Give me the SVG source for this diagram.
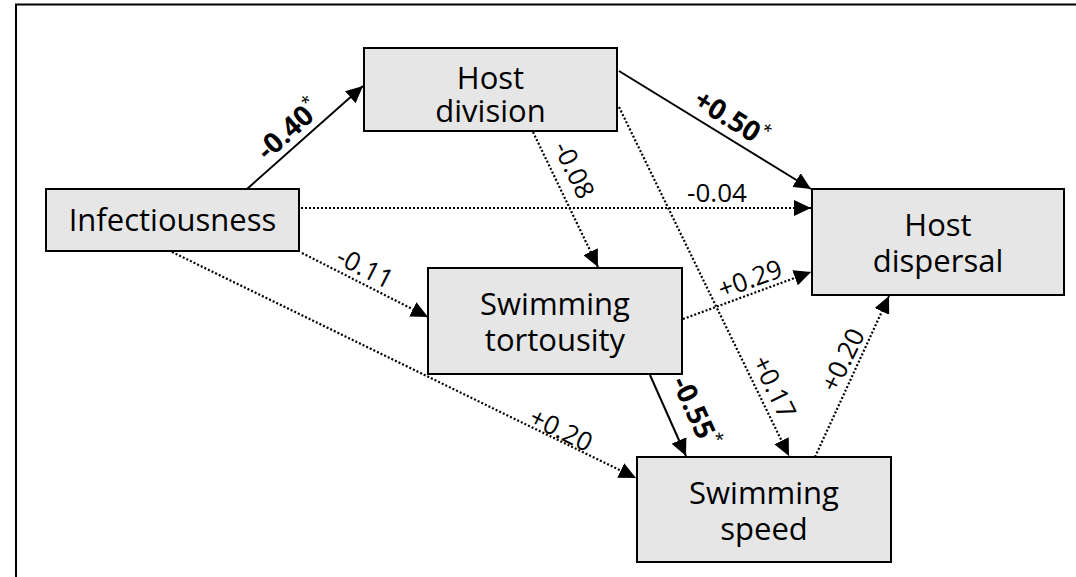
<svg xmlns="http://www.w3.org/2000/svg" width="1076" height="577" viewBox="0 0 1076 577">
<style>
.box{fill:#e6e6e6;stroke:#000;stroke-width:2}
.nt{font-family:"Open Sans","Liberation Sans",sans-serif;font-size:31px;fill:#000;text-anchor:middle}
.solid{stroke:#000;stroke-width:2;fill:none}
.dot{stroke:#000;stroke-width:2.2;fill:none;stroke-dasharray:2 2}
.lb{font-family:"Open Sans","Liberation Sans",sans-serif;font-size:26px;fill:#000;text-anchor:middle}
.b{font-weight:bold;font-size:28px}
.ast{font-size:17px;font-weight:normal}
</style>
<defs>
<marker id="ah" markerUnits="userSpaceOnUse" markerWidth="18" markerHeight="16" refX="17" refY="8" orient="auto" viewBox="0 0 18 16">
<path d="M0,0 L17,8 L0,16 z" fill="#000"/>
</marker>
</defs>
<rect width="1076" height="577" fill="#fff"/>
<path d="M16,577 V4.5 H1076" fill="none" stroke="#000" stroke-width="2"/>
<g id="connectors">
<line class="solid" x1="247" y1="189" x2="363" y2="86" marker-end="url(#ah)"/>
<line class="solid" x1="619" y1="71" x2="811" y2="189" marker-end="url(#ah)"/>
<line class="dot" x1="301" y1="208" x2="811" y2="208" marker-end="url(#ah)"/>
<line class="dot" x1="533" y1="132" x2="598" y2="267" marker-end="url(#ah)"/>
<line class="dot" x1="619" y1="107" x2="789" y2="456" marker-end="url(#ah)"/>
<line class="dot" x1="302" y1="253" x2="428" y2="317" marker-end="url(#ah)"/>
<line class="dot" x1="172" y1="252" x2="636" y2="478" marker-end="url(#ah)"/>
<line class="dot" x1="683" y1="319" x2="811" y2="272" marker-end="url(#ah)"/>
<line class="solid" x1="650" y1="375" x2="686" y2="456" marker-end="url(#ah)"/>
<line class="dot" x1="815" y1="457" x2="889" y2="296" marker-end="url(#ah)"/>
<text class="lb b" transform="translate(289,130) rotate(-42)" y="9">-0.40<tspan class="ast" dy="-12">*</tspan></text>
<text class="lb b" transform="translate(731,119) rotate(32)" y="9">+0.50<tspan class="ast" dy="-12">*</tspan></text>
<text class="lb" x="717" y="202">-0.04</text>
<text class="lb" transform="translate(574,170) rotate(64)" y="9">-0.08</text>
<text class="lb" transform="translate(774,387) rotate(64)" y="9">+0.17</text>
<text class="lb" transform="translate(365,268) rotate(27)" y="9">-0.11</text>
<text class="lb" transform="translate(561,430) rotate(26)" y="9">+0.20</text>
<text class="lb" transform="translate(750,279) rotate(-20)" y="9">+0.29</text>
<text class="lb b" transform="translate(695,412) rotate(65)" y="9">-0.55<tspan class="ast" dy="-12">*</tspan></text>
<text class="lb" transform="translate(843,360) rotate(-64)" y="9">+0.20</text>
</g>
<g id="host-division">
<rect class="box" x="364" y="48" width="253" height="83"/>
<text class="nt" x="490.5" y="89">Host</text>
<text class="nt" x="490.5" y="122">division</text>
</g>
<g id="infectiousness">
<rect class="box" x="46" y="189" width="253" height="62"/>
<text class="nt" x="172.5" y="231">Infectiousness</text>
</g>
<g id="swimming-tortousity">
<rect class="box" x="428" y="268" width="254" height="106"/>
<text class="nt" x="555" y="315">Swimming</text>
<text class="nt" x="555" y="351">tortousity</text>
</g>
<g id="host-dispersal">
<rect class="box" x="812" y="189" width="252" height="106"/>
<text class="nt" x="938" y="236">Host</text>
<text class="nt" x="938" y="272">dispersal</text>
</g>
<g id="swimming-speed">
<rect class="box" x="637" y="457" width="254" height="105"/>
<text class="nt" x="764" y="504">Swimming</text>
<text class="nt" x="764" y="540">speed</text>
</g>
</svg>
